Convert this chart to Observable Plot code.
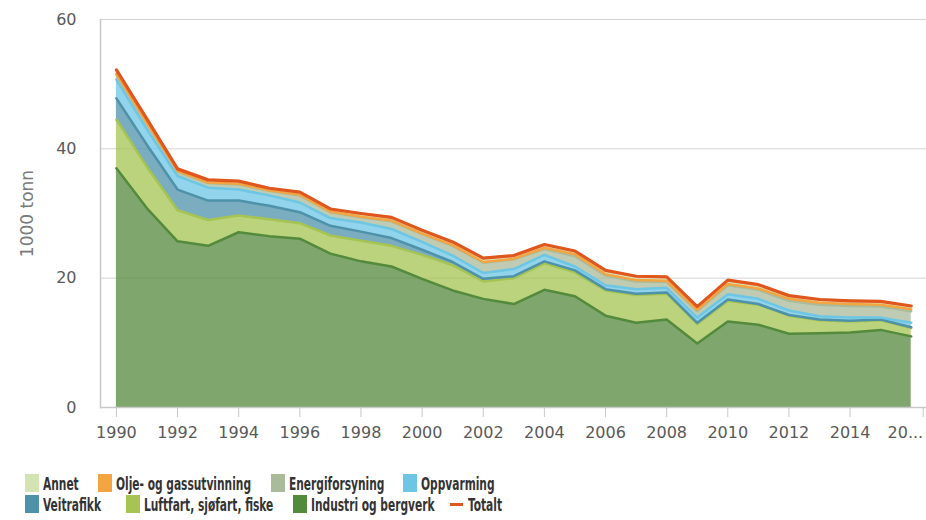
<!DOCTYPE html>
<html>
<head>
<meta charset="utf-8">
<script src="https://cdn.jsdelivr.net/npm/d3@7"></script>
<script src="https://cdn.jsdelivr.net/npm/@observablehq/plot@0.6"></script>
<style>
  body { margin: 0; background: #fff; }
  #wrap { position: relative; width: 926px; height: 520px; overflow: hidden; }
  #wrap svg { display: block; }
  .sw { position: absolute; width: 14px; height: 18px; }
  .ln { position: absolute; width: 13px; height: 3px; }
  .lab { position: absolute; font-family: "DejaVu Sans Condensed", "DejaVu Sans", sans-serif;
         font-weight: bold; font-size: 18px; line-height: 18px; height: 18px; color: #333; white-space: nowrap; transform-origin: 0 50%; }
</style>
</head>
<body>
<div id="wrap"></div>
<script>
// ---- Data (1000 tonn) ----
const years = [1990,1991,1992,1993,1994,1995,1996,1997,1998,1999,2000,2001,2002,2003,2004,2005,2006,2007,2008,2009,2010,2011,2012,2013,2014,2015,2016];
const industri   = [37.0,30.8,25.7,25.0,27.1,26.5,26.1,23.8,22.6,21.8,19.9,18.1,16.8,16.0,18.2,17.2,14.2,13.1,13.6,9.9,13.3,12.8,11.4,11.5,11.6,12.0,11.0];
const luftfart   = [7.5,6.4,4.8,4.0,2.6,2.6,2.4,2.8,3.2,3.2,3.7,3.9,2.7,4.0,4.1,3.7,3.9,4.3,4.0,3.0,3.2,3.1,2.8,2.0,1.7,1.5,1.3];
const veitrafikk = [3.3,3.4,3.2,3.0,2.3,2.1,1.7,1.5,1.4,1.2,0.8,0.5,0.4,0.3,0.3,0.3,0.2,0.2,0.2,0.2,0.2,0.1,0.1,0.1,0.1,0.1,0.1];
const oppvarming = [2.9,2.4,2.1,2.0,1.7,1.6,1.5,1.2,1.4,1.4,1.2,1.0,0.9,1.1,1.0,0.6,0.6,0.7,0.7,0.8,0.8,0.8,0.7,0.5,0.5,0.3,0.7];
const energi     = [0.8,0.9,0.7,0.7,0.8,0.7,1.1,0.9,0.8,1.2,1.2,1.5,1.6,1.5,0.9,1.6,1.5,1.2,0.9,1.0,1.4,1.4,1.5,1.8,1.8,1.7,1.8];
const olje       = [0.1,0.1,0.1,0.1,0.1,0.1,0.1,0.1,0.1,0.1,0.1,0.1,0.1,0.1,0.2,0.3,0.2,0.2,0.2,0.2,0.2,0.2,0.3,0.3,0.3,0.3,0.3];
const annet      = [0.6,0.6,0.3,0.4,0.4,0.3,0.4,0.4,0.5,0.5,0.5,0.5,0.6,0.5,0.5,0.5,0.6,0.6,0.6,0.5,0.6,0.6,0.5,0.5,0.5,0.5,0.5];
const totalt     = [52.2,44.6,36.9,35.2,35.0,33.9,33.3,30.7,30.0,29.4,27.4,25.6,23.1,23.5,25.2,24.2,21.2,20.3,20.2,15.6,19.7,19.0,17.3,16.7,16.5,16.4,15.7];

const xTicks = [1990,1992,1994,1996,1998,2000,2002,2004,2006,2008,2010,2012,2014];
const xTickLabels = ["1990","1992","1994","1996","1998","2000","2002","2004","2006","2008","2010","2012","2014"];
const xLastTick = [2016];
const xLastLabel = "20...";
const yTicks = [0,20,40,60];

// stacking order: bottom -> top
const seriesNames = ["Industri og bergverk","Luftfart, sjøfart, fiske","Veitrafikk","Oppvarming","Energiforsyning","Olje- og gassutvinning","Annet"];
const seriesValues = [industri, luftfart, veitrafikk, oppvarming, energi, olje, annet];
const seriesColors = ["#548a3c","#a6c452","#4e92aa","#6cc6e4","#aabb9a","#f3a542","#d4e3b3"];
const totalName = "Totalt";
const totalColor = "#e0561c";

// legend layout (display order)
const legendRows = [
  ["Annet","Olje- og gassutvinning","Energiforsyning","Oppvarming"],
  ["Veitrafikk","Luftfart, sjøfart, fiske","Industri og bergverk","Totalt"]
];
const legendX = [[25,98,271,403],[25,126,293,450]];
const legendY = [474,495];

// ---- Build ----
const rows = seriesNames.flatMap((name, s) => years.map((yr, i) => ({year: yr, value: seriesValues[s][i], series: name})));
const totals = years.map((yr, i) => ({year: yr, value: totalt[i]}));

const axisColor = "#c8c8c8";
const chart = Plot.plot({
  width: 926,
  height: 460,
  marginLeft: 100,
  marginRight: 0,
  marginTop: 19,
  marginBottom: 53,
  style: {fontFamily: "'DejaVu Sans', Verdana, sans-serif", fontSize: "16px", color: "#595959", background: "#fff"},
  x: {domain: [1989.48, 2016.5]},
  y: {domain: [0, 60]},
  color: {domain: seriesNames, range: seriesColors},
  marks: [
    Plot.gridY(yTicks, {stroke: "#d4d4d4", strokeOpacity: 1}),
    Plot.areaY(rows, {x: "year", y: "value", z: "series", fill: "series", fillOpacity: 0.75, order: seriesNames, curve: "linear"}),
    Plot.line(rows, Plot.stackY2({x: "year", y: "value", z: "series", stroke: "series", strokeWidth: 2.5, order: seriesNames})),
    Plot.lineY(totals, {x: "year", y: "value", stroke: totalColor, strokeWidth: 3.2}),
    Plot.ruleY([0], {stroke: axisColor, strokeWidth: 1.5}),
    Plot.frame({anchor: "left", stroke: axisColor, strokeWidth: 1.5}),
    Plot.axisX({ticks: xTicks, tickFormat: d => xTickLabels[xTicks.indexOf(d)], tickSize: 10, tickPadding: 9,
                stroke: axisColor, fill: "#595959", label: null}),
    Plot.axisX({ticks: xLastTick, tickFormat: () => xLastLabel, tickSize: 10, tickPadding: 9,
                stroke: axisColor, fill: "#595959", label: null, textAnchor: "end", dx: 12}),
    Plot.axisY({ticks: yTicks, tickSize: 0, tickPadding: 24, fill: "#595959", label: null}),
    Plot.axisY({ticks: [], label: "1000 tonn", labelAnchor: "center", labelArrow: "none", labelOffset: 80,
                fill: "#7a7a7a", fontSize: 17})
  ]
});

const wrap = document.getElementById("wrap");
wrap.appendChild(chart);

// ---- Legend ----
const colorOf = {};
seriesNames.forEach((n, i) => colorOf[n] = seriesColors[i]);
colorOf[totalName] = totalColor;

// scale legend text horizontally to match the condensed look
const cv = document.createElement("canvas").getContext("2d");
cv.font = 'bold 18px "DejaVu Sans Condensed", "DejaVu Sans", sans-serif';
const refW = cv.measureText("Olje- og gassutvinning").width;
const sx = Math.min(1, 135 / refW);

legendRows.forEach((row, r) => {
  row.forEach((name, c) => {
    const x = legendX[r][c], y = legendY[r];
    if (name === totalName) {
      const l = document.createElement("div");
      l.className = "ln";
      l.style.left = x + "px"; l.style.top = (y + 8) + "px"; l.style.background = colorOf[name];
      wrap.appendChild(l);
    } else {
      const s = document.createElement("div");
      s.className = "sw";
      s.style.left = x + "px"; s.style.top = y + "px"; s.style.background = colorOf[name];
      wrap.appendChild(s);
    }
    const t = document.createElement("div");
    t.className = "lab";
    t.textContent = name;
    t.style.left = (x + 18) + "px";
    t.style.top = (y + 1) + "px";
    t.style.transform = `scaleX(${sx})`;
    wrap.appendChild(t);
  });
});
</script>
</body>
</html>
